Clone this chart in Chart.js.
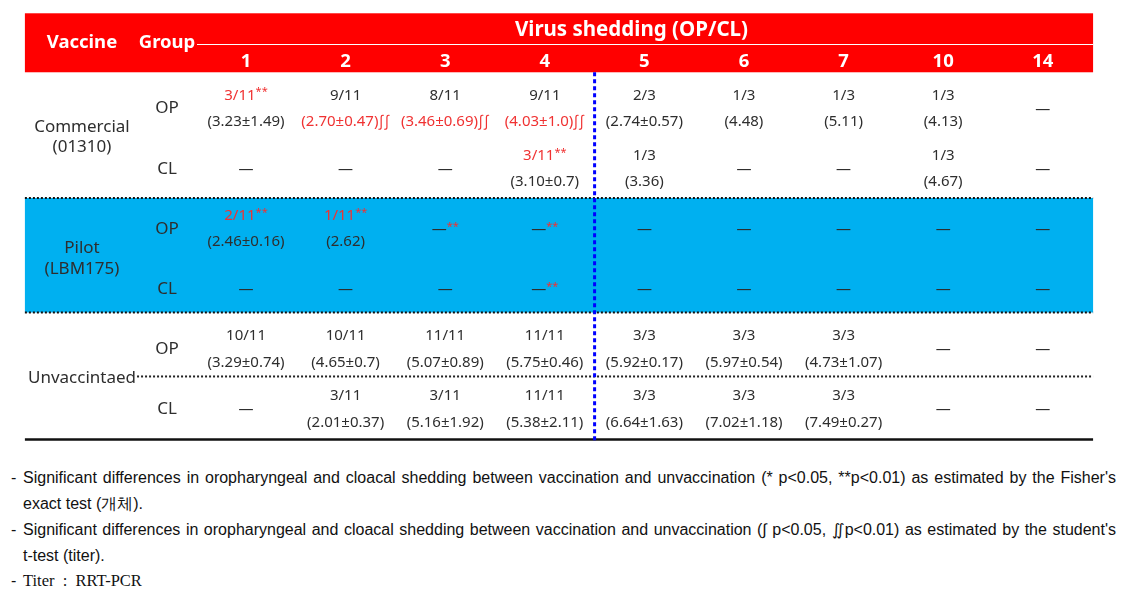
<!DOCTYPE html>
<html>
<head>
<meta charset="utf-8">
<script src="https://cdn.jsdelivr.net/npm/chart.js@4.4.0/dist/chart.umd.min.js"></script>
<style>
  html, body { margin: 0; padding: 0; background: #fff; }
  #wrap { position: relative; width: 1138px; height: 611px; overflow: hidden; }
  #box { position: absolute; left: 0; top: 0; width: 1138px; height: 450px; }
  .fn { position: absolute; font-family: "Liberation Sans", Arial, sans-serif; font-size: 16px; color: #111; line-height: 20px; white-space: nowrap; }
  .serif { font-family: "Liberation Serif", "Times New Roman", serif; font-size: 16.5px; }
</style>
</head>
<body>
<div id="wrap">
  <div id="box"><canvas id="sheddingChart"></canvas></div>

  <div class="fn" style="left:11px; top:468px">-</div>
  <div class="fn just" style="left:23px; top:468px">Significant differences in oropharyngeal and cloacal shedding between vaccination and unvaccination (* p&lt;0.05, **p&lt;0.01) as estimated by the Fisher's</div>
  <div class="fn" style="left:23px; top:494px">exact test (개체).</div>
  <div class="fn" style="left:11px; top:520px">-</div>
  <div class="fn just" style="left:23px; top:520px">Significant differences in oropharyngeal and cloacal shedding between vaccination and unvaccination (∫ p&lt;0.05, ∬p&lt;0.01) as estimated by the student's</div>
  <div class="fn" style="left:23px; top:546px">t-test (titer).</div>
  <div class="fn" style="left:11px; top:571px">-</div>
  <div class="fn serif" style="left:23px; top:571px">Titer&nbsp; :&nbsp; RRT-PCR</div>
</div>

<script>
// 표 데이터 (days post challenge)
const days = ['1', '2', '3', '4', '5', '6', '7', '10', '14'];
const vaccines = [['Commercial', '(01310)'], ['Pilot', '(LBM175)'], ['Unvaccintaed']];
const groups = ['OP', 'CL', 'OP', 'CL', 'OP', 'CL'];

// positive / total (null = not detected)
const commercialOPCount = ['3/11', '9/11', '8/11', '9/11', '2/3', '1/3', '1/3', '1/3', null];
const commercialCLCount = [null, null, null, '3/11', '1/3', null, null, '1/3', null];
const pilotOPCount = ['2/11', '1/11', null, null, null, null, null, null, null];
const pilotCLCount = [null, null, null, null, null, null, null, null, null];
const unvacOPCount = ['10/11', '10/11', '11/11', '11/11', '3/3', '3/3', '3/3', null, null];
const unvacCLCount = [null, '3/11', '3/11', '11/11', '3/3', '3/3', '3/3', null, null];

// titer (mean±SD)
const commercialOPTiter = ['3.23±1.49', '2.70±0.47', '3.46±0.69', '4.03±1.0', '2.74±0.57', '4.48', '5.11', '4.13', null];
const commercialCLTiter = [null, null, null, '3.10±0.7', '3.36', null, null, '4.67', null];
const pilotOPTiter = ['2.46±0.16', '2.62', null, null, null, null, null, null, null];
const pilotCLTiter = [null, null, null, null, null, null, null, null, null];
const unvacOPTiter = ['3.29±0.74', '4.65±0.7', '5.07±0.89', '5.75±0.46', '5.92±0.17', '5.97±0.54', '4.73±1.07', null, null];
const unvacCLTiter = [null, '2.01±0.37', '5.16±1.92', '5.38±2.11', '6.64±1.63', '7.02±1.18', '7.49±0.27', null, null];

// Fisher's exact test marks (count) / t-test marks (titer)
const commercialOPFisher = ['**', '', '', '', '', '', '', '', ''];
const commercialCLFisher = ['', '', '', '**', '', '', '', '', ''];
const pilotOPFisher = ['**', '**', '**', '**', '', '', '', '', ''];
const pilotCLFisher = ['', '', '', '**', '', '', '', '', ''];
const commercialOPTtest = ['', '∫∫', '∫∫', '∫∫', '', '', '', '', ''];

const noMarks = days.map(() => '');
const rowCounts = [commercialOPCount, commercialCLCount, pilotOPCount, pilotCLCount, unvacOPCount, unvacCLCount];
const rowTiters = [commercialOPTiter, commercialCLTiter, pilotOPTiter, pilotCLTiter, unvacOPTiter, unvacCLTiter];
const rowFisher = [commercialOPFisher, commercialCLFisher, pilotOPFisher, pilotCLFisher, noMarks, noMarks];
const rowTtest = [commercialOPTtest, noMarks, noMarks, noMarks, noMarks, noMarks];

// 색상, 글꼴
const RED = '#FF0000';
const BLUE_BAND = '#00B0F0';
const TEXT = '#2E2E2E';
const TEXT_RED = '#F03232';
const FONT = '"Noto Sans", "Open Sans", sans-serif';

// 레이아웃 (scale units: x = day column, y = table row)
const TABLE_L = -2.22, TABLE_R = 8.505;
const HEAD_TOP = -1.585, HEAD_BOTTOM = -0.604;
const HEAD_LINE_Y = -1.066, HEAD_LINE_X = -0.492;
const TITLE_Y = -1.30, TITLE_X = 3.87, DAY_Y = -0.783, HEAD_LABEL_Y = -1.091;
const VACCINE_X = -1.647, GROUP_X = -0.793;
const VACCINE_Y = [0.472, 2.493, 4.48];
const LINE_GAP = 0.171;
const PILOT_TOP = 1.487, PILOT_BOTTOM = 3.391;
const UNVAC_SPLIT = 4.455, UNVAC_SPLIT_X = -1.094;
const TABLE_BOTTOM = 5.503;
const SPLIT_X = 3.5;
const CELL_GAP = 0.221;

// cell points (one per row x day)
const cells = [];
rowCounts.forEach(function(counts, r) {
    days.forEach(function(d, c) {
        cells.push({
            x: c, y: r,
            count: counts[c], titer: rowTiters[r][c],
            fisher: rowFisher[r][c], ttest: rowTtest[r][c]
        });
    });
});

function drawMarked(ctx, text, mark, x, y, color, markSize, markRise) {
    ctx.font = '15px ' + FONT;
    const w1 = ctx.measureText(text).width;
    ctx.font = markSize + 'px ' + FONT;
    const w2 = mark ? ctx.measureText(mark).width : 0;
    const start = x - (w1 + w2) / 2;
    ctx.textAlign = 'left';
    ctx.font = '15px ' + FONT;
    ctx.fillStyle = color;
    ctx.fillText(text, start, y);
    if (mark) {
        ctx.font = markSize + 'px ' + FONT;
        ctx.fillStyle = TEXT_RED;
        ctx.fillText(mark, start + w1, y + markRise);
    }
}

function hLine(ctx, x1, x2, y, width, color, dash) {
    ctx.save();
    ctx.strokeStyle = color;
    ctx.lineWidth = width;
    ctx.setLineDash(dash || []);
    ctx.beginPath();
    ctx.moveTo(x1, y);
    ctx.lineTo(x2, y);
    ctx.stroke();
    ctx.restore();
}

const tablePlugin = {
    id: 'tablePlugin',
    beforeDatasetsDraw: function(chart) {
        const ctx = chart.ctx;
        const xs = chart.scales.x, ys = chart.scales.y;
        const L = xs.getPixelForValue(TABLE_L), R = xs.getPixelForValue(TABLE_R);

        // 헤더 (빨간색)
        const ht = ys.getPixelForValue(HEAD_TOP), hb = ys.getPixelForValue(HEAD_BOTTOM);
        ctx.fillStyle = RED;
        ctx.fillRect(L, ht, R - L, hb - ht);
        hLine(ctx, xs.getPixelForValue(HEAD_LINE_X), R, Math.round(ys.getPixelForValue(HEAD_LINE_Y)) + 0.5, 1.2, '#FFFFFF');

        // Pilot 행 배경
        const pt = ys.getPixelForValue(PILOT_TOP), pb = ys.getPixelForValue(PILOT_BOTTOM);
        ctx.fillStyle = BLUE_BAND;
        ctx.fillRect(L, pt, R - L, pb - pt);

        // 점선, 실선
        hLine(ctx, L, R, pt, 2, '#111', [2, 2]);
        hLine(ctx, L, R, pb, 2, '#111', [2, 2]);
        hLine(ctx, xs.getPixelForValue(UNVAC_SPLIT_X), R, ys.getPixelForValue(UNVAC_SPLIT), 2, '#222', [2, 2]);
        hLine(ctx, L, R, ys.getPixelForValue(TABLE_BOTTOM), 2.5, '#111');

        // 세로 파란 점선 (day 4 | day 5)
        const sx = xs.getPixelForValue(SPLIT_X);
        ctx.save();
        ctx.strokeStyle = '#0000FF';
        ctx.lineWidth = 3;
        ctx.setLineDash([4, 3]);
        ctx.beginPath();
        ctx.moveTo(sx, hb);
        ctx.lineTo(sx, ys.getPixelForValue(TABLE_BOTTOM) + 2);
        ctx.stroke();
        ctx.restore();

        // 헤더 텍스트
        ctx.fillStyle = '#FFFFFF';
        ctx.textAlign = 'center';
        ctx.textBaseline = 'middle';
        ctx.font = 'bold 18.5px ' + FONT;
        ctx.fillText('Vaccine', xs.getPixelForValue(VACCINE_X), ys.getPixelForValue(HEAD_LABEL_Y));
        ctx.fillText('Group', xs.getPixelForValue(GROUP_X), ys.getPixelForValue(HEAD_LABEL_Y));
        days.forEach(function(d, c) {
            ctx.fillText(d, xs.getPixelForValue(c), ys.getPixelForValue(DAY_Y));
        });
        ctx.font = 'bold 20.5px ' + FONT;
        ctx.fillText('Virus shedding (OP/CL)', xs.getPixelForValue(TITLE_X), ys.getPixelForValue(TITLE_Y));

        // 백신, 그룹 라벨
        ctx.fillStyle = TEXT;
        ctx.font = '17px ' + FONT;
        vaccines.forEach(function(lines, i) {
            const cy = ys.getPixelForValue(VACCINE_Y[i]);
            const gap = ys.getPixelForValue(LINE_GAP) - ys.getPixelForValue(0);
            lines.forEach(function(t, k) {
                const off = lines.length === 1 ? 0 : (k === 0 ? -gap : gap);
                ctx.fillText(t, xs.getPixelForValue(VACCINE_X), cy + off);
            });
        });
        groups.forEach(function(g, r) {
            ctx.fillText(g, xs.getPixelForValue(GROUP_X), ys.getPixelForValue(r));
        });
    },
    afterDatasetsDraw: function(chart) {
        const ctx = chart.ctx;
        const ys = chart.scales.y;
        const gap = ys.getPixelForValue(CELL_GAP) - ys.getPixelForValue(0);
        const meta = chart.getDatasetMeta(0);
        const data = chart.data.datasets[0].data;
        ctx.save();
        ctx.textBaseline = 'middle';
        meta.data.forEach(function(pt, i) {
            const cell = data[i];
            if (cell.count === null && cell.titer === null) {
                drawMarked(ctx, '—', cell.fisher, pt.x, pt.y + 1, TEXT, 11, -3);
                return;
            }
            drawMarked(ctx, cell.count, cell.fisher, pt.x, pt.y - gap, cell.fisher ? TEXT_RED : TEXT, 11, -3);
            drawMarked(ctx, '(' + cell.titer + ')', cell.ttest, pt.x, pt.y + gap, cell.ttest ? TEXT_RED : TEXT, 15, 0);
        });
        ctx.restore();
    }
};

const canvas = document.getElementById('sheddingChart');
new Chart(canvas.getContext('2d'), {
    type: 'scatter',
    data: {
        datasets: [{
            label: 'cells',
            data: cells,
            pointRadius: 0,
            pointHoverRadius: 0
        }]
    },
    options: {
        responsive: true,
        maintainAspectRatio: false,
        animation: false,
        events: [],
        layout: { padding: 0 },
        plugins: {
            legend: { display: false },
            tooltip: { enabled: false }
        },
        scales: {
            x: { type: 'linear', display: false, min: -2.47, max: 8.956 },
            y: { type: 'linear', display: false, reverse: true, min: -1.806, max: 5.678 }
        }
    },
    plugins: [tablePlugin]
});

// 각주 첫 줄 양쪽 정렬 (word-spacing)
document.querySelectorAll('.just').forEach(function(el) {
    const target = 1093;
    const spaces = (el.textContent.match(/ /g) || []).length;
    const natural = el.getBoundingClientRect().width;
    if (spaces > 0) {
        el.style.wordSpacing = ((target - natural) / spaces) + 'px';
    }
});
</script>
</body>
</html>
